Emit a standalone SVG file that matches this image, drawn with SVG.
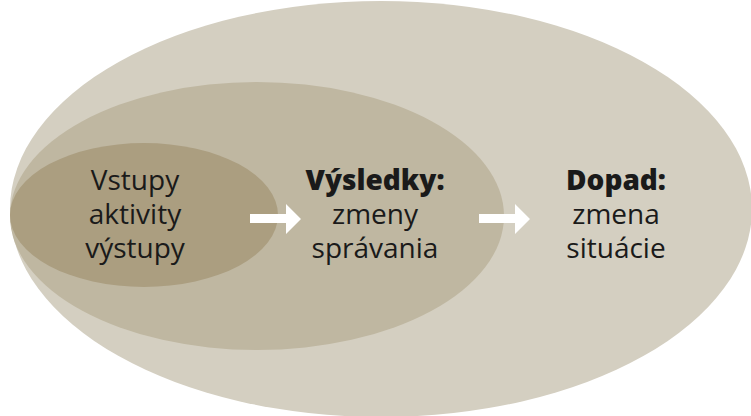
<svg xmlns="http://www.w3.org/2000/svg" width="751" height="416" viewBox="0 0 751 416">
  <defs>
    <style>
      .lbl { font-family: "Open Sans", "Liberation Sans", sans-serif; font-size: 28px; fill: #1a1a1a; text-anchor: middle; }
      .b { font-weight: 800; }
      .arrow { fill: #ffffff; }
    </style>
  </defs>
  <rect width="751" height="416" fill="#ffffff"/>
  <g id="impact">
    <ellipse cx="381" cy="209" rx="371" ry="208" fill="#d4cfc1"/>
  </g>
  <g id="outcomes">
    <ellipse cx="257" cy="216" rx="247" ry="134" fill="#bfb7a1"/>
  </g>
  <g id="inputs">
    <ellipse cx="144" cy="215" rx="134" ry="72" fill="#ab9e80"/>
  </g>
  <g id="connectors">
    <path class="arrow" d="M250,214 H286 V204 L301,219 L286,234 V223 H250 Z"/>
    <path class="arrow" d="M479,214 H515 V204 L530,219 L515,234 V223 H479 Z"/>
  </g>
  <g id="inputs-text">
    <text class="lbl" x="135" y="190">Vstupy</text>
    <text class="lbl" x="135" y="224">aktivity</text>
    <text class="lbl" x="135" y="258">výstupy</text>
  </g>
  <g id="outcomes-text">
    <text class="lbl b" x="375" y="190">Výsledky:</text>
    <text class="lbl" x="375" y="224">zmeny</text>
    <text class="lbl" x="375" y="258">správania</text>
  </g>
  <g id="impact-text">
    <text class="lbl b" x="616" y="190">Dopad:</text>
    <text class="lbl" x="616" y="224">zmena</text>
    <text class="lbl" x="616" y="258">situácie</text>
  </g>
</svg>
